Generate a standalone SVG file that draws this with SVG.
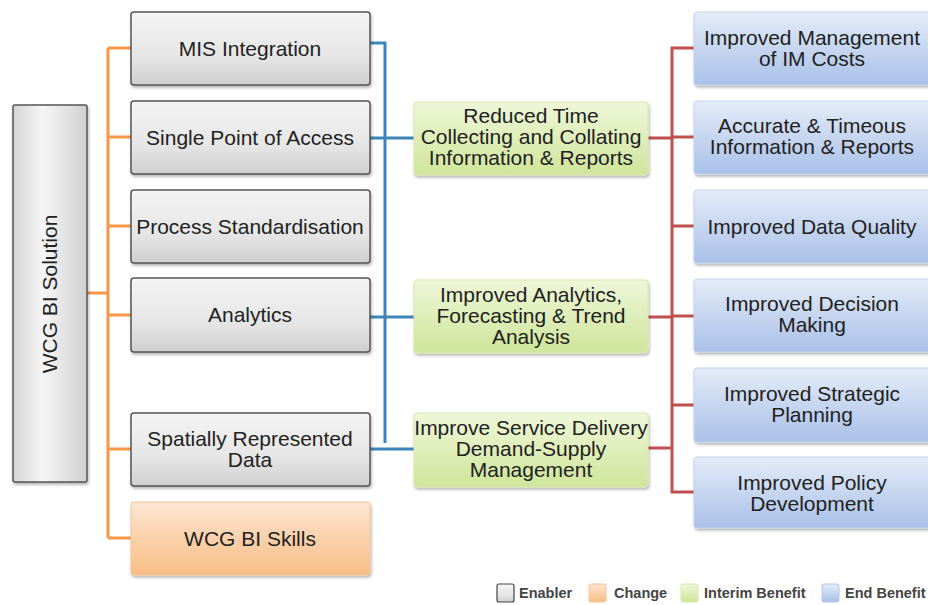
<svg xmlns="http://www.w3.org/2000/svg" width="928" height="605" viewBox="0 0 928 605">
<defs>
  <linearGradient id="gGray" x1="0" y1="0" x2="0" y2="1">
    <stop offset="0" stop-color="#f4f4f4"/>
    <stop offset="0.6" stop-color="#e6e6e6"/>
    <stop offset="1" stop-color="#cfcfcf"/>
  </linearGradient>
  <linearGradient id="gRoot" x1="0" y1="0" x2="1" y2="0">
    <stop offset="0" stop-color="#d4d4d4"/>
    <stop offset="0.4" stop-color="#f6f6f6"/>
    <stop offset="1" stop-color="#d0d0d0"/>
  </linearGradient>
  <linearGradient id="gOrange" x1="0" y1="0" x2="0" y2="1">
    <stop offset="0" stop-color="#fde6d2"/>
    <stop offset="1" stop-color="#f9bd85"/>
  </linearGradient>
  <linearGradient id="gGreen" x1="0" y1="0" x2="0" y2="1">
    <stop offset="0" stop-color="#eef7d8"/>
    <stop offset="1" stop-color="#cfe59a"/>
  </linearGradient>
  <linearGradient id="gBlue" x1="0" y1="0" x2="0" y2="1">
    <stop offset="0" stop-color="#e4ecf8"/>
    <stop offset="1" stop-color="#a9c0e8"/>
  </linearGradient>
  <filter id="sh" x="-10%" y="-10%" width="120%" height="130%">
    <feDropShadow dx="1" dy="2" stdDeviation="1.5" flood-color="#000" flood-opacity="0.3"/>
  </filter>
</defs>
<style>
  text { font-family: "Liberation Sans", Arial, sans-serif; font-size: 21px; fill: #222; text-anchor: middle; }
  .gray { fill: url(#gGray); stroke: #555; stroke-width: 1.5; filter: url(#sh); }
  .root { fill: url(#gRoot); stroke: #555; stroke-width: 1.5; filter: url(#sh); }
  .orange { fill: url(#gOrange); stroke: #f7c49a; stroke-width: 1; filter: url(#sh); }
  .green { fill: url(#gGreen); stroke: #d8e8b0; stroke-width: 1; filter: url(#sh); }
  .blue { fill: url(#gBlue); stroke: #c5d4ec; stroke-width: 1; filter: url(#sh); }
  .co { fill: none; stroke: #f79646; stroke-width: 3; }
  .cb { fill: none; stroke: #3d85b8; stroke-width: 3; }
  .cr { fill: none; stroke: #c0504d; stroke-width: 3; }
  .leg { font-size: 14.5px; font-weight: bold; text-anchor: start; fill: #444; }
</style>

<g id="connectors">
  <path class="co" d="M87 293 H108 M108 48 V538 M108 48 H131 M108 137 H131 M108 226 H131 M108 315 H131 M108 449 H131 M108 538 H131"/>
  <path class="cb" d="M370 43 H385 V443 M370 138 H414 M370 317 H414 M370 449 H414"/>
  <path class="cr" d="M648 138 H672 M648 317 H672 M648 448 H672 M694 48 H672 V492 H694 M672 137 H694 M672 226 H694 M672 316 H694 M672 405 H694"/>
</g>

<g id="root">
  <rect class="root" x="13" y="105" width="74" height="377" rx="2"/>
  <text transform="translate(50,294) rotate(-90)" y="7">WCG BI Solution</text>
</g>

<g id="mis">
  <rect class="gray" x="131" y="12" width="239" height="73" rx="3"/>
  <text x="250" y="56">MIS Integration</text>
</g>
<g id="spa">
  <rect class="gray" x="131" y="101" width="239" height="73" rx="3"/>
  <text x="250" y="145">Single Point of Access</text>
</g>
<g id="ps">
  <rect class="gray" x="131" y="190" width="239" height="73" rx="3"/>
  <text x="250" y="234">Process Standardisation</text>
</g>
<g id="analytics">
  <rect class="gray" x="131" y="278" width="239" height="74" rx="3"/>
  <text x="250" y="322">Analytics</text>
</g>
<g id="spatial">
  <rect class="gray" x="131" y="413" width="239" height="73" rx="3"/>
  <text x="250" y="446">Spatially Represented</text>
  <text x="250" y="467">Data</text>
</g>
<g id="skills">
  <rect class="orange" x="131" y="502" width="239" height="73" rx="3"/>
  <text x="250" y="546">WCG BI Skills</text>
</g>

<g id="reduced">
  <rect class="green" x="414" y="102" width="234" height="73" rx="3"/>
  <text x="531" y="123">Reduced Time</text>
  <text x="531" y="144">Collecting and Collating</text>
  <text x="531" y="165">Information &amp; Reports</text>
</g>
<g id="improvedAnalytics">
  <rect class="green" x="414" y="280" width="234" height="73" rx="3"/>
  <text x="531" y="302">Improved Analytics,</text>
  <text x="531" y="323">Forecasting &amp; Trend</text>
  <text x="531" y="344">Analysis</text>
</g>
<g id="service">
  <rect class="green" x="414" y="413" width="234" height="74" rx="3"/>
  <text x="531" y="435">Improve Service Delivery</text>
  <text x="531" y="456">Demand-Supply</text>
  <text x="531" y="477">Management</text>
</g>

<g id="imcosts">
  <rect class="blue" x="694" y="12" width="240" height="73" rx="3"/>
  <text x="812" y="45">Improved Management</text>
  <text x="812" y="66">of IM Costs</text>
</g>
<g id="accurate">
  <rect class="blue" x="694" y="101" width="240" height="73" rx="3"/>
  <text x="812" y="133">Accurate &amp; Timeous</text>
  <text x="812" y="154">Information &amp; Reports</text>
</g>
<g id="dataquality">
  <rect class="blue" x="694" y="190" width="240" height="73" rx="3"/>
  <text x="812" y="234">Improved Data Quality</text>
</g>
<g id="decision">
  <rect class="blue" x="694" y="279" width="240" height="73" rx="3"/>
  <text x="812" y="311">Improved Decision</text>
  <text x="812" y="332">Making</text>
</g>
<g id="strategic">
  <rect class="blue" x="694" y="368" width="240" height="74" rx="3"/>
  <text x="812" y="401">Improved Strategic</text>
  <text x="812" y="422">Planning</text>
</g>
<g id="policy">
  <rect class="blue" x="694" y="457" width="240" height="71" rx="3"/>
  <text x="812" y="490">Improved Policy</text>
  <text x="812" y="511">Development</text>
</g>

<g id="legend">
  <rect x="497" y="584" width="17" height="18" rx="2" fill="url(#gGray)" stroke="#444" stroke-width="1.2"/>
  <text class="leg" x="519" y="598">Enabler</text>
  <rect x="589" y="584" width="17" height="18" rx="2" fill="url(#gOrange)" stroke="#f7c49a" stroke-width="1"/>
  <text class="leg" x="614" y="598">Change</text>
  <rect x="681" y="584" width="17" height="18" rx="2" fill="url(#gGreen)" stroke="#d8e8b0" stroke-width="1"/>
  <text class="leg" x="704" y="598">Interim Benefit</text>
  <rect x="822" y="584" width="17" height="18" rx="2" fill="url(#gBlue)" stroke="#b5c6e4" stroke-width="1"/>
  <text class="leg" x="845" y="598">End Benefit</text>
</g>
</svg>
